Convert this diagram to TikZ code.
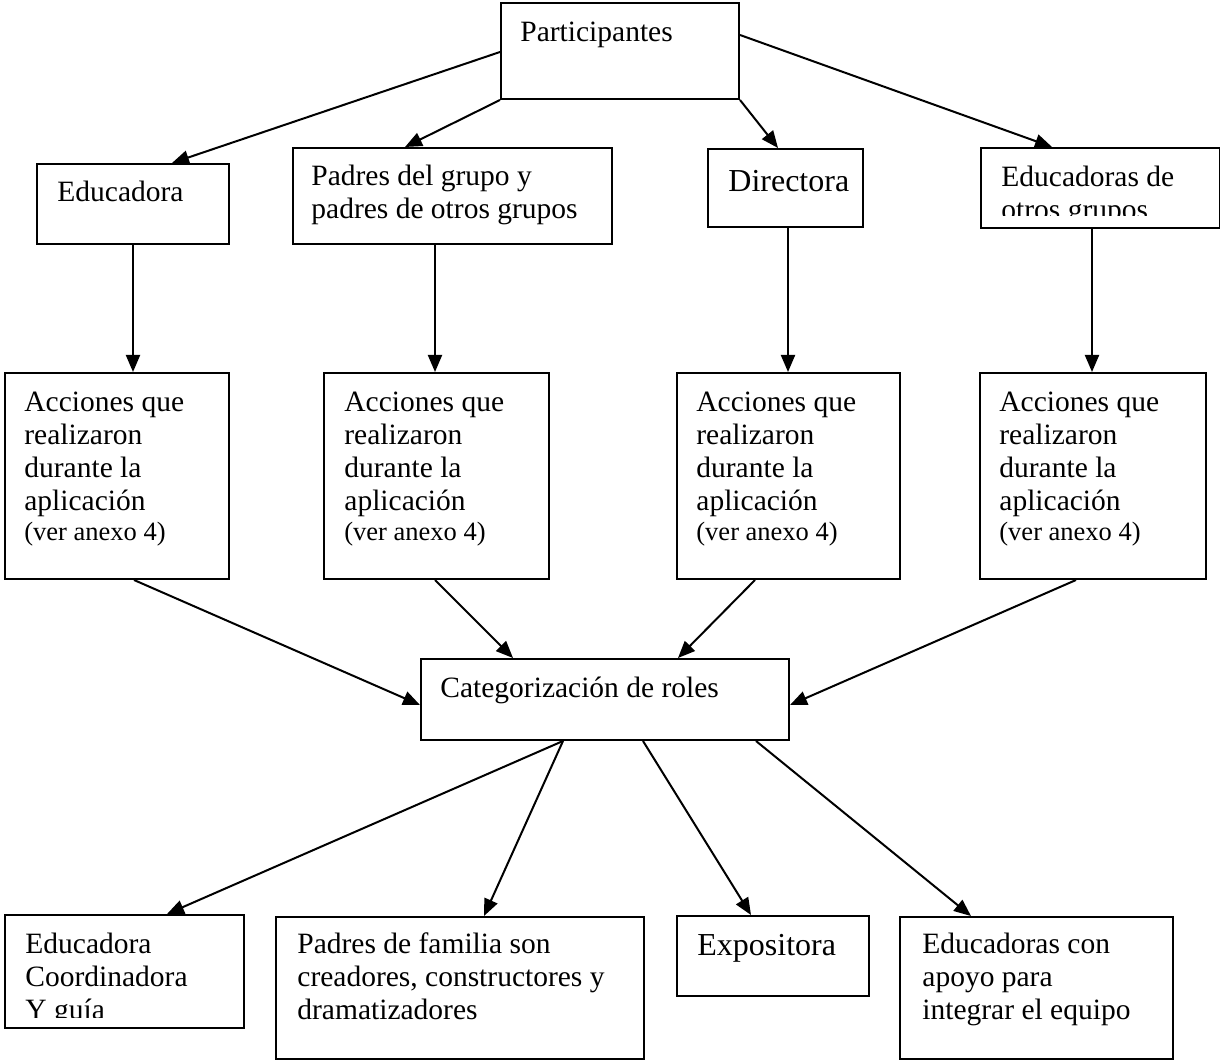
\documentclass[tikz,border=0pt]{standalone}
\usepackage{fontspec}
\setmainfont{Liberation Serif}
\usetikzlibrary{arrows.meta}
\begin{document}
\begin{tikzpicture}[x=0.5pt,y=-0.5pt,
  box/.style n args={2}{draw, line width=1pt, anchor=north west, inner sep=0pt, minimum width=#1, minimum height=#2},
  txt/.style={anchor=north west, inner sep=0pt, align=left, yshift=11.55pt, font=\fontsize{14.75}{16.5}\selectfont},
  big/.style={font=\fontsize{16}{16.5}\selectfont},
  arr/.style={line width=1pt, -{Triangle[length=8.5pt,width=7pt]}}
]
\useasboundingbox (0,0) rectangle (1220,1063);

% boxes
\node[box={119pt}{48pt}] (P) at (500,2) {};
\node[box={96pt}{40pt}] (Edu) at (36,163) {};
\node[box={159.5pt}{48pt}] (Pad) at (292,147) {};
\node[box={77.5pt}{39pt}] (Dir) at (707,148) {};
\node[box={119.5pt}{40pt}] (EdO) at (980,147) {};
\node[box={112pt}{103pt}] (Acc1) at (4,372) {};
\node[box={112.5pt}{103pt}] (Acc2) at (323,372) {};
\node[box={111.5pt}{103pt}] (Acc3) at (676,372) {};
\node[box={113pt}{103pt}] (Acc4) at (979,372) {};
\node[box={184pt}{40.5pt}] (Cat) at (420,658) {};
\node[box={119.5pt}{56.5pt}] (B1) at (4,914) {};
\node[box={184pt}{71pt}] (B2) at (275,916) {};
\node[box={96pt}{40pt}] (B3) at (676,915) {};
\node[box={136.5pt}{71pt}] (B4) at (899,916) {};

% texts
\node[txt] (tP) at (520,41) {\strut Participantes};
\node[txt] (tEdu) at (57,201) {\strut Educadora};
\node[txt] (tPad) at (311,185) {\strut Padres del grupo y\\padres de otros grupos};
\node[txt,big] (tDir) at (728,191) {\strut Directora};
\begin{scope}
  \clip (982,149) rectangle (1219,216);
  \node[txt] (tEdO) at (1001,186) {\strut Educadoras de\\otros grupos};
\end{scope}
\node[txt] (tA1) at (24,411) {\strut Acciones que\\realizaron\\durante la\\aplicación\\[-1.5pt]{\fontsize{13.25}{15}\selectfont (ver anexo 4)}};
\node[txt] (tA2) at (344,411) {\strut Acciones que\\realizaron\\durante la\\aplicación\\[-1.5pt]{\fontsize{13.25}{15}\selectfont (ver anexo 4)}};
\node[txt] (tA3) at (696,411) {\strut Acciones que\\realizaron\\durante la\\aplicación\\[-1.5pt]{\fontsize{13.25}{15}\selectfont (ver anexo 4)}};
\node[txt] (tA4) at (999,411) {\strut Acciones que\\realizaron\\durante la\\aplicación\\[-1.5pt]{\fontsize{13.25}{15}\selectfont (ver anexo 4)}};
\node[txt] (tCat) at (440,697) {\strut Categorización de roles};
\begin{scope}
  \clip (6,916) rectangle (241,1017);
  \node[txt] (tB1) at (25,953) {\strut Educadora\\Coordinadora\\Y guía};
\end{scope}
\node[txt] (tB2) at (297,953) {\strut Padres de familia son\\creadores, constructores y\\dramatizadores};
\node[txt,big] (tB3) at (697,955) {\strut Expositora};
\node[txt] (tB4) at (922,953) {\strut Educadoras con\\apoyo para\\integrar el equipo};

% connectors
\draw[arr] ([yshift=-25pt]P.north west) -- ([xshift=68pt]Edu.north west);
\draw[arr] (P.south west) -- ([xshift=56.5pt]Pad.north west);
\draw[arr] (P.south east) -- ([xshift=35.5pt]Dir.north west);
\draw[arr] ([yshift=-16.5pt]P.north east) -- ([xshift=36pt]EdO.north west);

\draw[arr] ([xshift=48.5pt]Edu.south west) -- ([xshift=64.5pt]Acc1.north west);
\draw[arr] ([xshift=71.5pt]Pad.south west) -- ([xshift=56pt]Acc2.north west);
\draw[arr] ([xshift=40.5pt]Dir.south west) -- ([xshift=56pt]Acc3.north west);
\draw[arr] ([xshift=56pt]EdO.south west) -- ([xshift=56.5pt]Acc4.north west);

\draw[arr] ([xshift=65pt]Acc1.south west) -- ([yshift=-23.5pt]Cat.north west);
\draw[arr] ([xshift=56pt]Acc2.south west) -- ([xshift=46.5pt]Cat.north west);
\draw[arr] ([xshift=39.5pt]Acc3.south west) -- ([xshift=129pt]Cat.north west);
\draw[arr] ([xshift=48.5pt]Acc4.south west) -- ([yshift=-23.5pt]Cat.north east);

\draw[arr] ([xshift=71.5pt]Cat.south west) -- ([xshift=81.5pt]B1.north west);
\draw[arr] ([xshift=71.5pt]Cat.south west) -- ([xshift=104.5pt]B2.north west);
\draw[arr] ([xshift=111.5pt]Cat.south west) -- ([xshift=37.5pt]B3.north west);
\draw[arr] ([xshift=168pt]Cat.south west) -- ([xshift=36pt]B4.north west);
\end{tikzpicture}
\end{document}
